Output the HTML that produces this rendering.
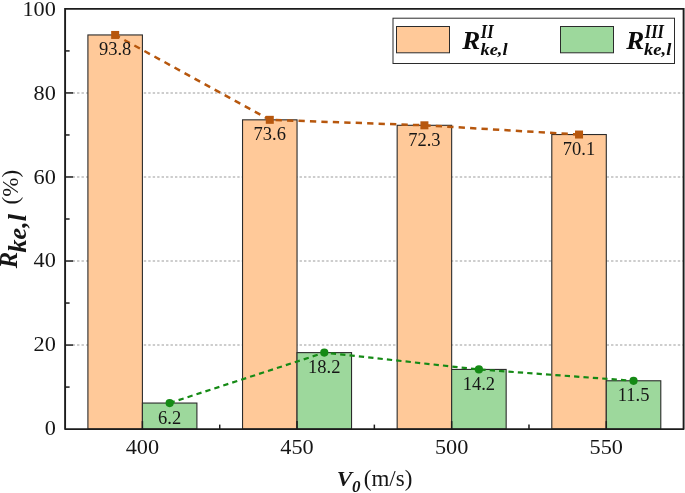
<!DOCTYPE html>
<html><head><meta charset="utf-8"><title>chart</title>
<style>html,body{margin:0;padding:0;background:#fff}body{width:685px;height:493px;overflow:hidden}</style>
</head><body>
<svg width="685" height="493" viewBox="0 0 685 493" style="display:block">
<rect width="685" height="493" fill="#fff"/>
<line x1="72.6" x2="683.6" y1="345.06" y2="345.06" stroke="#9c9c9c" stroke-width="1.1" stroke-dasharray="2.4 2.05"/>
<line x1="72.6" x2="683.6" y1="261.02" y2="261.02" stroke="#9c9c9c" stroke-width="1.1" stroke-dasharray="2.4 2.05"/>
<line x1="72.6" x2="683.6" y1="176.98" y2="176.98" stroke="#9c9c9c" stroke-width="1.1" stroke-dasharray="2.4 2.05"/>
<line x1="72.6" x2="683.6" y1="92.94" y2="92.94" stroke="#9c9c9c" stroke-width="1.1" stroke-dasharray="2.4 2.05"/>
<rect x="87.91" y="34.95" width="54.5" height="394.15" fill="#ffc999" stroke="#2b2b2b" stroke-width="1.1"/>
<rect x="142.41" y="403.05" width="54.5" height="26.05" fill="#9dd89c" stroke="#2b2b2b" stroke-width="1.1"/>
<rect x="242.54" y="119.83" width="54.5" height="309.27" fill="#ffc999" stroke="#2b2b2b" stroke-width="1.1"/>
<rect x="297.04" y="352.62" width="54.5" height="76.48" fill="#9dd89c" stroke="#2b2b2b" stroke-width="1.1"/>
<rect x="397.16" y="125.30" width="54.5" height="303.80" fill="#ffc999" stroke="#2b2b2b" stroke-width="1.1"/>
<rect x="451.66" y="369.43" width="54.5" height="59.67" fill="#9dd89c" stroke="#2b2b2b" stroke-width="1.1"/>
<rect x="551.79" y="134.54" width="54.5" height="294.56" fill="#ffc999" stroke="#2b2b2b" stroke-width="1.1"/>
<rect x="606.29" y="380.78" width="54.5" height="48.32" fill="#9dd89c" stroke="#2b2b2b" stroke-width="1.1"/>
<path d="M65.1 429.1 V8.9 H683.6 V429.1 M64.35 429.1 H684.35" fill="none" stroke="#1c1c1c" stroke-width="1.9"/>
<line x1="65.1" x2="69.6" y1="387.08" y2="387.08" stroke="#1c1c1c" stroke-width="1.5"/>
<line x1="65.1" x2="73.1" y1="345.06" y2="345.06" stroke="#1c1c1c" stroke-width="1.5"/>
<line x1="65.1" x2="69.6" y1="303.04" y2="303.04" stroke="#1c1c1c" stroke-width="1.5"/>
<line x1="65.1" x2="73.1" y1="261.02" y2="261.02" stroke="#1c1c1c" stroke-width="1.5"/>
<line x1="65.1" x2="69.6" y1="219.00" y2="219.00" stroke="#1c1c1c" stroke-width="1.5"/>
<line x1="65.1" x2="73.1" y1="176.98" y2="176.98" stroke="#1c1c1c" stroke-width="1.5"/>
<line x1="65.1" x2="69.6" y1="134.96" y2="134.96" stroke="#1c1c1c" stroke-width="1.5"/>
<line x1="65.1" x2="73.1" y1="92.94" y2="92.94" stroke="#1c1c1c" stroke-width="1.5"/>
<line x1="65.1" x2="69.6" y1="50.92" y2="50.92" stroke="#1c1c1c" stroke-width="1.5"/>
<line x1="142.41" x2="142.41" y1="429.1" y2="421.1" stroke="#1c1c1c" stroke-width="1.5"/>
<line x1="219.72" x2="219.72" y1="429.1" y2="424.6" stroke="#1c1c1c" stroke-width="1.5"/>
<line x1="297.04" x2="297.04" y1="429.1" y2="421.1" stroke="#1c1c1c" stroke-width="1.5"/>
<line x1="374.35" x2="374.35" y1="429.1" y2="424.6" stroke="#1c1c1c" stroke-width="1.5"/>
<line x1="451.66" x2="451.66" y1="429.1" y2="421.1" stroke="#1c1c1c" stroke-width="1.5"/>
<line x1="528.98" x2="528.98" y1="429.1" y2="424.6" stroke="#1c1c1c" stroke-width="1.5"/>
<line x1="606.29" x2="606.29" y1="429.1" y2="421.1" stroke="#1c1c1c" stroke-width="1.5"/>
<polyline points="115.16,34.95 269.79,119.83 424.41,125.30 579.04,134.54" fill="none" stroke="#b7570d" stroke-width="2.5" stroke-dasharray="6.3 5.15" stroke-dashoffset="1"/>
<polyline points="169.66,403.05 324.29,352.62 478.91,369.43 633.54,380.78" fill="none" stroke="#158a15" stroke-width="2.2" stroke-dasharray="5.3 4.1"/>
<rect x="111.16" y="30.95" width="8" height="8" fill="#b7570d"/>
<circle cx="169.66" cy="403.05" r="4.1" fill="#158a15"/>
<rect x="265.79" y="115.83" width="8" height="8" fill="#b7570d"/>
<circle cx="324.29" cy="352.62" r="4.1" fill="#158a15"/>
<rect x="420.41" y="121.30" width="8" height="8" fill="#b7570d"/>
<circle cx="478.91" cy="369.43" r="4.1" fill="#158a15"/>
<rect x="575.04" y="130.54" width="8" height="8" fill="#b7570d"/>
<circle cx="633.54" cy="380.78" r="4.1" fill="#158a15"/>
<g font-family="'Liberation Serif', 'Times New Roman', serif" fill="#161616">
<text transform="translate(55.80 435.20) scale(1.07 1.0)" font-size="20.8" text-anchor="end" >0</text>
<text transform="translate(55.80 351.32) scale(1.07 1.0)" font-size="20.8" text-anchor="end" >20</text>
<text transform="translate(55.80 267.44) scale(1.07 1.0)" font-size="20.8" text-anchor="end" >40</text>
<text transform="translate(55.80 183.56) scale(1.07 1.0)" font-size="20.8" text-anchor="end" >60</text>
<text transform="translate(55.80 99.68) scale(1.07 1.0)" font-size="20.8" text-anchor="end" >80</text>
<text transform="translate(55.80 15.80) scale(1.07 1.0)" font-size="20.8" text-anchor="end" >100</text>
<text transform="translate(142.41 454.00) scale(1.07 1.0)" font-size="20.8" text-anchor="middle" >400</text>
<text transform="translate(297.04 454.00) scale(1.07 1.0)" font-size="20.8" text-anchor="middle" >450</text>
<text transform="translate(451.66 454.00) scale(1.07 1.0)" font-size="20.8" text-anchor="middle" >500</text>
<text transform="translate(606.29 454.00) scale(1.07 1.0)" font-size="20.8" text-anchor="middle" >550</text>
<text transform="translate(115.16 55.45)" font-size="18.5" text-anchor="middle" >93.8</text>
<text transform="translate(169.66 423.55)" font-size="18.5" text-anchor="middle" >6.2</text>
<text transform="translate(269.79 140.33)" font-size="18.5" text-anchor="middle" >73.6</text>
<text transform="translate(324.29 373.12)" font-size="18.5" text-anchor="middle" >18.2</text>
<text transform="translate(424.41 145.80)" font-size="18.5" text-anchor="middle" >72.3</text>
<text transform="translate(478.91 389.93)" font-size="18.5" text-anchor="middle" >14.2</text>
<text transform="translate(579.04 155.04)" font-size="18.5" text-anchor="middle" >70.1</text>
<text transform="translate(633.54 401.28)" font-size="18.5" text-anchor="middle" >11.5</text>
<text transform="translate(336.70 485.50) scale(1.05 1.0)" font-size="22" text-anchor="start" font-weight="bold" font-style="italic">V</text>
<text transform="translate(351.90 492.20)" font-size="17" text-anchor="start" font-weight="bold" font-style="italic">0</text>
<text transform="translate(363.80 486.20) scale(1.0 1.04)" font-size="23" text-anchor="start" >(m/s)</text>
<text transform="translate(16.90 268.20) rotate(-90)" font-size="24.5" text-anchor="start" font-weight="bold" font-style="italic">R</text>
<text transform="translate(25.80 252.40) rotate(-90) scale(1.04 1.0)" font-size="25" text-anchor="start" font-weight="bold" font-style="italic">ke,l</text>
<text transform="translate(17.60 204.40) rotate(-90) scale(1.0 1.01)" font-size="23" text-anchor="start" >(%)</text>
</g>
<rect x="393" y="18.2" width="281.5" height="45.3" fill="#fff" stroke="#2b2b2b" stroke-width="1"/>
<rect x="396.5" y="26.5" width="53" height="26.3" fill="#ffc999" stroke="#2b2b2b" stroke-width="1"/>
<rect x="560.5" y="26.5" width="53" height="26.3" fill="#9dd89c" stroke="#2b2b2b" stroke-width="1"/>
<g font-family="'Liberation Serif', 'Times New Roman', serif" fill="#0c0c0c" font-weight="bold" font-style="italic">
<text transform="translate(462.20 48.80) scale(1.06 1.0)" font-size="25.5" text-anchor="start" >R</text>
<text transform="translate(480.80 37.70) scale(0.9 1.0)" font-size="18.3" text-anchor="start" >II</text>
<text transform="translate(480.40 55.30) scale(1.09 1.0)" font-size="17" text-anchor="start" >ke,l</text>
<text transform="translate(626.20 48.80) scale(1.06 1.0)" font-size="25.5" text-anchor="start" >R</text>
<text transform="translate(644.80 37.70) scale(0.9 1.0)" font-size="18.3" text-anchor="start" >III</text>
<text transform="translate(644.10 55.30) scale(1.09 1.0)" font-size="17" text-anchor="start" >ke,l</text>
</g>
</svg>
</body></html>
